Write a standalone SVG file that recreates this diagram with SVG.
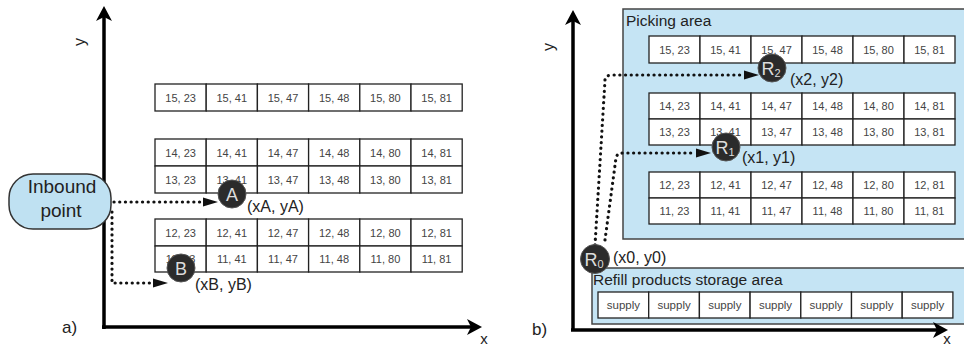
<svg xmlns="http://www.w3.org/2000/svg" width="964" height="347" viewBox="0 0 964 347">
<style>
.cell{fill:#fff;stroke:#222;stroke-width:1.3}
.ct{font-family:"Liberation Sans",Arial,sans-serif;font-size:11px;fill:#444;text-anchor:middle}
.st{font-family:"Liberation Sans",Arial,sans-serif;font-size:11.5px;fill:#444;text-anchor:middle}
.lbl{font-family:"Liberation Sans",Arial,sans-serif;fill:#222}
.area{fill:#c5e4f4;stroke:#444;stroke-width:1.5}
.axis{stroke:#000;stroke-width:3.5;fill:none}
.head{fill:#000}
.dot{stroke:#111;stroke-width:3.2;fill:none;stroke-dasharray:0.1 5.6;stroke-linecap:round}
.ah{fill:#111}
.pt{fill:#2b2b2b;stroke:#555;stroke-width:1}
.pl{font-family:"Liberation Sans",Arial,sans-serif;font-size:18px;fill:#ddd;text-anchor:middle}
</style>
<rect width="964" height="347" fill="#fff"/>

<!-- Right panel areas -->
<g id="picking-area">
<rect class="area" x="623" y="9" width="345" height="230"/>
<text class="lbl" x="626" y="26" font-size="15.5">Picking area</text>
</g>
<g id="refill-area">
<rect class="area" x="592" y="268" width="376" height="56"/>
<text class="lbl" x="593" y="285" font-size="15.5">Refill products storage area</text>
</g>

<!-- Axes and connectors -->
<g id="connectors">
<line class="axis" x1="104" y1="329" x2="104" y2="16"/>
<polygon class="head" points="104,6 96,21 104,17 112,21"/>
<line class="axis" x1="102" y1="327" x2="472" y2="327"/>
<polygon class="head" points="482,327 467,319 471,327 467,335"/>
<line class="axis" x1="573" y1="331" x2="573" y2="20"/>
<polygon class="head" points="573,10 565,25 573,21 581,25"/>
<line class="axis" x1="571" y1="330" x2="938" y2="330"/>
<polygon class="head" points="948,330 933,322 937,330 933,338"/>

<path class="dot" d="M114,202 H204"/>
<polygon class="ah" points="203,197.5 218,202 203,206.5"/>
<path class="dot" d="M112,212 V283 H154"/>
<polygon class="ah" points="153,278.5 168,283 153,287.5"/>

<path class="dot" d="M595,245 L605,80 Q606,75 612,75 H745"/>
<polygon class="ah" points="744,70.5 759,75 744,79.5"/>
<path class="dot" d="M605,240 L616,158 Q617,153 623,153 H696"/>
<polygon class="ah" points="696,148.5 711,153 696,157.5"/>
</g>

<!-- Axis labels -->
<g id="axis-labels">
<text class="lbl" x="80" y="42" font-size="16" text-anchor="middle" transform="rotate(-90 80 42)" dy="5">y</text>
<text class="lbl" x="549" y="47" font-size="16" text-anchor="middle" transform="rotate(-90 549 47)" dy="5">y</text>
<text class="lbl" x="484" y="344" font-size="15" text-anchor="middle">x</text>
<text class="lbl" x="947" y="344" font-size="15" text-anchor="middle">x</text>
<text class="lbl" x="62" y="333" font-size="17">a)</text>
<text class="lbl" x="532" y="335" font-size="17">b)</text>
</g>

<!-- Left tables -->
<g id="left-row-15">
<rect class="cell" x="155" y="84" width="51.2" height="27"/><rect class="cell" x="206.2" y="84" width="51.2" height="27"/><rect class="cell" x="257.4" y="84" width="51.2" height="27"/><rect class="cell" x="308.6" y="84" width="51.2" height="27"/><rect class="cell" x="359.8" y="84" width="51.2" height="27"/><rect class="cell" x="411" y="84" width="51.2" height="27"/>
<text class="ct" x="180.6" y="101.5">15, 23</text><text class="ct" x="231.8" y="101.5">15, 41</text><text class="ct" x="283" y="101.5">15, 47</text><text class="ct" x="334.2" y="101.5">15, 48</text><text class="ct" x="385.4" y="101.5">15, 80</text><text class="ct" x="436.6" y="101.5">15, 81</text>
</g>
<g id="left-rows-14-13">
<rect class="cell" x="155" y="139" width="51.2" height="27"/><rect class="cell" x="206.2" y="139" width="51.2" height="27"/><rect class="cell" x="257.4" y="139" width="51.2" height="27"/><rect class="cell" x="308.6" y="139" width="51.2" height="27"/><rect class="cell" x="359.8" y="139" width="51.2" height="27"/><rect class="cell" x="411" y="139" width="51.2" height="27"/>
<text class="ct" x="180.6" y="156.5">14, 23</text><text class="ct" x="231.8" y="156.5">14, 41</text><text class="ct" x="283" y="156.5">14, 47</text><text class="ct" x="334.2" y="156.5">14, 48</text><text class="ct" x="385.4" y="156.5">14, 80</text><text class="ct" x="436.6" y="156.5">14, 81</text>
<rect class="cell" x="155" y="166" width="51.2" height="27"/><rect class="cell" x="206.2" y="166" width="51.2" height="27"/><rect class="cell" x="257.4" y="166" width="51.2" height="27"/><rect class="cell" x="308.6" y="166" width="51.2" height="27"/><rect class="cell" x="359.8" y="166" width="51.2" height="27"/><rect class="cell" x="411" y="166" width="51.2" height="27"/>
<text class="ct" x="180.6" y="183.5">13, 23</text><text class="ct" x="231.8" y="183.5">13, 41</text><text class="ct" x="283" y="183.5">13, 47</text><text class="ct" x="334.2" y="183.5">13, 48</text><text class="ct" x="385.4" y="183.5">13, 80</text><text class="ct" x="436.6" y="183.5">13, 81</text>
</g>
<g id="left-rows-12-11">
<rect class="cell" x="155" y="219" width="51.2" height="27"/><rect class="cell" x="206.2" y="219" width="51.2" height="27"/><rect class="cell" x="257.4" y="219" width="51.2" height="27"/><rect class="cell" x="308.6" y="219" width="51.2" height="27"/><rect class="cell" x="359.8" y="219" width="51.2" height="27"/><rect class="cell" x="411" y="219" width="51.2" height="27"/>
<text class="ct" x="180.6" y="236.5">12, 23</text><text class="ct" x="231.8" y="236.5">12, 41</text><text class="ct" x="283" y="236.5">12, 47</text><text class="ct" x="334.2" y="236.5">12, 48</text><text class="ct" x="385.4" y="236.5">12, 80</text><text class="ct" x="436.6" y="236.5">12, 81</text>
<rect class="cell" x="155" y="246" width="51.2" height="26"/><rect class="cell" x="206.2" y="246" width="51.2" height="26"/><rect class="cell" x="257.4" y="246" width="51.2" height="26"/><rect class="cell" x="308.6" y="246" width="51.2" height="26"/><rect class="cell" x="359.8" y="246" width="51.2" height="26"/><rect class="cell" x="411" y="246" width="51.2" height="26"/>
<text class="ct" x="180.6" y="263">11, 23</text><text class="ct" x="231.8" y="263">11, 41</text><text class="ct" x="283" y="263">11, 47</text><text class="ct" x="334.2" y="263">11, 48</text><text class="ct" x="385.4" y="263">11, 80</text><text class="ct" x="436.6" y="263">11, 81</text>
</g>

<!-- Right tables -->
<g id="right-row-15">
<rect class="cell" x="649" y="36" width="51" height="27"/><rect class="cell" x="700" y="36" width="51" height="27"/><rect class="cell" x="751" y="36" width="51" height="27"/><rect class="cell" x="802" y="36" width="51" height="27"/><rect class="cell" x="853" y="36" width="51" height="27"/><rect class="cell" x="904" y="36" width="51" height="27"/>
<text class="ct" x="674.5" y="53.5">15, 23</text><text class="ct" x="725.5" y="53.5">15, 41</text><text class="ct" x="776.5" y="53.5">15, 47</text><text class="ct" x="827.5" y="53.5">15, 48</text><text class="ct" x="878.5" y="53.5">15, 80</text><text class="ct" x="929.5" y="53.5">15, 81</text>
</g>
<g id="right-rows-14-13">
<rect class="cell" x="649" y="93" width="51" height="26"/><rect class="cell" x="700" y="93" width="51" height="26"/><rect class="cell" x="751" y="93" width="51" height="26"/><rect class="cell" x="802" y="93" width="51" height="26"/><rect class="cell" x="853" y="93" width="51" height="26"/><rect class="cell" x="904" y="93" width="51" height="26"/>
<text class="ct" x="674.5" y="110">14, 23</text><text class="ct" x="725.5" y="110">14, 41</text><text class="ct" x="776.5" y="110">14, 47</text><text class="ct" x="827.5" y="110">14, 48</text><text class="ct" x="878.5" y="110">14, 80</text><text class="ct" x="929.5" y="110">14, 81</text>
<rect class="cell" x="649" y="119" width="51" height="26"/><rect class="cell" x="700" y="119" width="51" height="26"/><rect class="cell" x="751" y="119" width="51" height="26"/><rect class="cell" x="802" y="119" width="51" height="26"/><rect class="cell" x="853" y="119" width="51" height="26"/><rect class="cell" x="904" y="119" width="51" height="26"/>
<text class="ct" x="674.5" y="136">13, 23</text><text class="ct" x="725.5" y="136">13, 41</text><text class="ct" x="776.5" y="136">13, 47</text><text class="ct" x="827.5" y="136">13, 48</text><text class="ct" x="878.5" y="136">13, 80</text><text class="ct" x="929.5" y="136">13, 81</text>
</g>
<g id="right-rows-12-11">
<rect class="cell" x="649" y="172" width="51" height="26"/><rect class="cell" x="700" y="172" width="51" height="26"/><rect class="cell" x="751" y="172" width="51" height="26"/><rect class="cell" x="802" y="172" width="51" height="26"/><rect class="cell" x="853" y="172" width="51" height="26"/><rect class="cell" x="904" y="172" width="51" height="26"/>
<text class="ct" x="674.5" y="189">12, 23</text><text class="ct" x="725.5" y="189">12, 41</text><text class="ct" x="776.5" y="189">12, 47</text><text class="ct" x="827.5" y="189">12, 48</text><text class="ct" x="878.5" y="189">12, 80</text><text class="ct" x="929.5" y="189">12, 81</text>
<rect class="cell" x="649" y="198" width="51" height="26"/><rect class="cell" x="700" y="198" width="51" height="26"/><rect class="cell" x="751" y="198" width="51" height="26"/><rect class="cell" x="802" y="198" width="51" height="26"/><rect class="cell" x="853" y="198" width="51" height="26"/><rect class="cell" x="904" y="198" width="51" height="26"/>
<text class="ct" x="674.5" y="215">11, 23</text><text class="ct" x="725.5" y="215">11, 41</text><text class="ct" x="776.5" y="215">11, 47</text><text class="ct" x="827.5" y="215">11, 48</text><text class="ct" x="878.5" y="215">11, 80</text><text class="ct" x="929.5" y="215">11, 81</text>
</g>
<g id="supply-row">
<rect class="cell" x="598" y="292" width="50.7" height="26"/><rect class="cell" x="648.7" y="292" width="50.7" height="26"/><rect class="cell" x="699.4" y="292" width="50.7" height="26"/><rect class="cell" x="750.1" y="292" width="50.7" height="26"/><rect class="cell" x="800.8" y="292" width="50.7" height="26"/><rect class="cell" x="851.5" y="292" width="50.7" height="26"/><rect class="cell" x="902.2" y="292" width="50.7" height="26"/>
<text class="st" x="623.4" y="308.5">supply</text><text class="st" x="674.1" y="308.5">supply</text><text class="st" x="724.8" y="308.5">supply</text><text class="st" x="775.5" y="308.5">supply</text><text class="st" x="826.2" y="308.5">supply</text><text class="st" x="876.9" y="308.5">supply</text><text class="st" x="927.6" y="308.5">supply</text>
</g>

<!-- Inbound point -->
<g id="inbound-point">
<rect x="9" y="174" width="102" height="55" rx="24" ry="24" fill="#bfe1f2" stroke="#333" stroke-width="1.5"/>
<text class="lbl" x="62" y="193" font-size="19" text-anchor="middle">Inbound</text>
<text class="lbl" x="61" y="217" font-size="19" text-anchor="middle">point</text>
</g>

<!-- Points -->
<g id="point-A">
<circle class="pt" cx="232" cy="194" r="14"/>
<text class="pl" x="232" y="200.5">A</text>
<text class="lbl" x="247" y="212" font-size="16">(xA, yA)</text>
</g>
<g id="point-B">
<circle class="pt" cx="181" cy="268" r="14"/>
<text class="pl" x="181" y="274.5">B</text>
<text class="lbl" x="195" y="290" font-size="16">(xB, yB)</text>
</g>
<g id="point-R0">
<circle class="pt" cx="595" cy="259" r="14.5"/>
<text class="pl" x="594" y="265.5">R<tspan font-size="11" dy="2">0</tspan></text>
<text class="lbl" x="613" y="263" font-size="16">(x0, y0)</text>
</g>
<g id="point-R1">
<circle class="pt" cx="726" cy="147" r="14"/>
<text class="pl" x="725" y="153.5">R<tspan font-size="11" dy="2">1</tspan></text>
<text class="lbl" x="742" y="163" font-size="16">(x1, y1)</text>
</g>
<g id="point-R2">
<circle class="pt" cx="772" cy="68" r="14"/>
<text class="pl" x="771" y="74.5">R<tspan font-size="11" dy="2">2</tspan></text>
<text class="lbl" x="790" y="85" font-size="16">(x2, y2)</text>
</g>
</svg>
